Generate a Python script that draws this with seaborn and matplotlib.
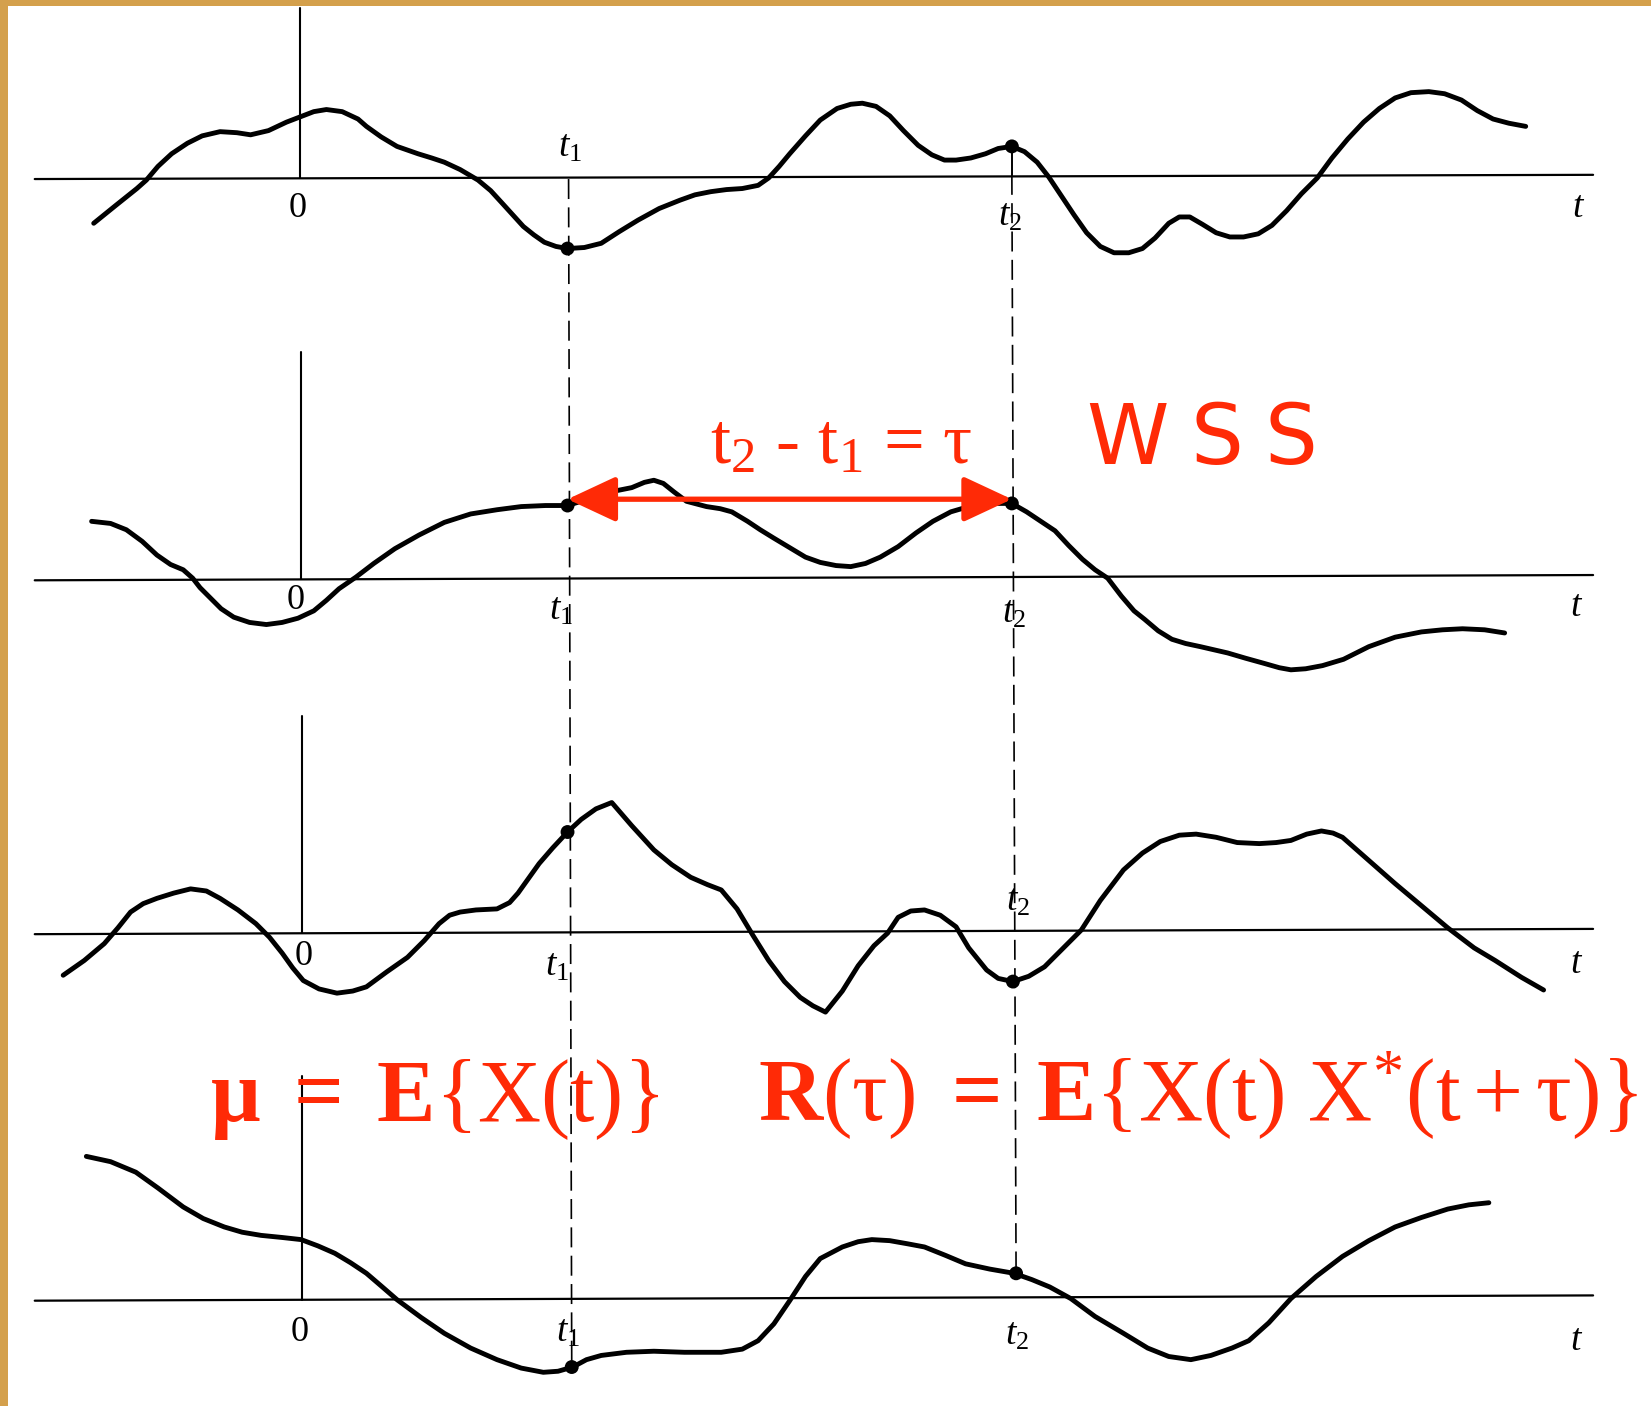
import matplotlib
matplotlib.use("Agg")
import matplotlib.pyplot as plt
from matplotlib.patches import FancyArrowPatch, ArrowStyle
import seaborn as sns
import pandas as pd

sns.set_theme(style="white")
plt.rcParams['font.family'] = ['Liberation Serif', 'DejaVu Serif']
plt.rcParams['mathtext.fontset'] = 'custom'
plt.rcParams['mathtext.rm'] = 'Liberation Serif'
plt.rcParams['mathtext.it'] = 'Liberation Serif:italic'
plt.rcParams['mathtext.bf'] = 'Liberation Serif:bold'

# drawing units (picture coordinates, y grows downwards)
W, H = 1568, 1335

# time axes of the four sample functions
row_y_left = [170, 551, 887, 1235]
row_y_right = [166, 546, 882, 1230]
axis_x0, axis_x1 = 33, 1513
zero_x = [285, 286, 287, 287]
zero_top = [8, 334, 680, 1022]

# sample functions x(t)
c1_x = [89, 110, 130, 139, 150, 163, 178, 192, 209, 225, 238, 255, 272, 285, 298, 310, 325, 340, 348, 362,
        377, 397, 410, 422, 437, 454, 466, 477, 487, 497, 507, 517, 528, 539, 555, 571, 588, 606, 626, 646,
        660, 675, 690, 705, 720, 730, 740, 750, 765, 779, 795, 808, 819, 832, 845, 858, 872, 885, 897, 908,
        922, 936, 948, 961, 973, 985, 996, 1008, 1020, 1032, 1045, 1058, 1072, 1085, 1097, 1110, 1120, 1130,
        1142, 1155, 1168, 1181, 1195, 1208, 1222, 1236, 1251, 1265, 1280, 1295, 1310, 1325, 1340, 1357, 1372,
        1388, 1403, 1418, 1433, 1449]
c1_y = [212, 195, 179, 171, 158, 146, 136, 129, 125, 126, 128, 124, 116, 111, 106, 104, 106, 113, 120, 130,
        139, 146, 150, 154, 161, 171, 181, 193, 204, 215, 223, 230, 234, 236, 235, 231, 220, 209, 198, 190,
        185, 182, 180, 179, 176, 169, 158, 146, 129, 114, 103, 99, 98, 101, 110, 124, 138, 147, 152, 152,
        150, 146, 141, 139, 144, 154, 168, 186, 204, 221, 234, 240, 240, 236, 226, 212, 206, 206,
        213, 221, 225, 225, 222, 214, 200, 184, 169, 150, 132, 116, 103, 93, 88, 87, 89,
        95, 105, 113, 117, 120]

c2_x = [87, 105, 120, 135, 149, 162, 174, 183, 190, 199, 210, 222, 237, 253, 268, 283, 298, 310, 322, 338,
        355, 375, 398, 422, 447, 472, 495, 518, 539, 555, 570, 585, 600, 612, 621, 630, 640, 652, 671, 684,
        695, 710, 722, 735, 750, 765, 779, 794, 808, 822, 836, 853, 870, 886, 903, 920, 940, 961, 975, 990,
        1002, 1015, 1028, 1040, 1052, 1065, 1077, 1087, 1100, 1113, 1126, 1140, 1153, 1166, 1183, 1201, 1215,
        1226, 1240, 1256, 1276, 1300, 1325, 1350, 1370, 1389, 1410, 1429]
c2_y = [495, 497, 503, 514, 527, 536, 541, 549, 558, 567, 578, 586, 591, 593, 591, 587, 580, 570, 559, 548,
        535, 521, 508, 496, 488, 484, 481, 480, 480, 475, 470, 466, 463, 458, 456, 459, 467, 476, 481, 483,
        486, 495, 503, 511, 520, 529, 534, 537, 538, 535, 529, 519, 506, 495, 486, 481, 478, 478, 486, 496,
        504, 518, 531, 541, 549, 566, 580, 588, 599, 607, 611, 614, 617, 620, 625, 630, 634,
        636, 635, 632, 626, 614, 605, 600, 598, 597, 598, 601]

c3_x = [60, 80, 99, 112, 124, 136, 149, 165, 181, 196, 209, 226, 243, 256, 268, 278, 288, 303, 320, 335,
        348, 367, 387, 403, 417, 427, 437, 452, 472, 484, 492, 502, 512, 525, 539, 552, 566, 581, 600, 621,
        638, 656, 672, 685, 700, 715, 730, 745, 760, 772, 784, 800, 815, 830, 843, 853, 865, 878, 893, 908,
        920, 937, 948, 962, 977, 992, 1010, 1027, 1045, 1067, 1085, 1102, 1120, 1136, 1155, 1175, 1196, 1212,
        1226, 1241, 1255, 1266, 1275, 1300, 1325, 1350, 1375, 1400, 1420, 1445, 1466]
c3_y = [926, 912, 896, 881, 866, 858, 853, 848, 844, 846, 853, 864, 877, 890, 905, 919, 931, 939, 943, 941,
        937, 923, 909, 893, 877, 869, 866, 864, 863, 857, 848, 834, 820, 805, 790, 778, 768, 762, 784, 807,
        821, 833, 840, 845, 863, 888, 912, 932, 947, 955, 961, 941, 917, 898, 886, 871, 865, 864, 869, 880,
        900, 921, 929, 932, 927, 918, 900, 883, 855, 826, 810, 799, 793, 792, 795, 800, 801, 800,
        798, 792, 789, 791, 795, 817, 839, 860, 881, 900, 912, 928, 940]

c4_x = [82, 105, 129, 150, 174, 193, 213, 230, 248, 268, 286, 302, 318, 333, 348, 362, 377, 400, 422, 447,
        472, 495, 516, 530, 544, 557, 571, 595, 621, 650, 685, 705, 720, 735, 750, 765, 779, 800, 815, 828,
        845, 862, 878, 898, 917, 940, 963, 980, 997, 1017, 1040, 1067, 1090, 1110, 1131, 1150, 1170, 1186,
        1205, 1226, 1250, 1275, 1300, 1325, 1350, 1375, 1395, 1414]
c4_y = [1098, 1103, 1113, 1128, 1146, 1157, 1165, 1170, 1173, 1175, 1177, 1183, 1190, 1199, 1209, 1221, 1234,
        1251, 1266, 1280, 1291, 1299, 1303, 1302, 1298, 1291, 1287, 1284, 1283, 1284, 1284, 1281, 1273, 1257,
        1235, 1212, 1195, 1184, 1179, 1177, 1178, 1181, 1184, 1192, 1200, 1205, 1209, 1215, 1222, 1233, 1250,
        1266, 1280, 1288, 1291, 1287, 1280, 1273, 1256, 1233, 1212, 1193, 1178, 1165, 1156, 1148, 1144, 1142]

curves = [(c1_x, c1_y), (c2_x, c2_y), (c3_x, c3_y), (c4_x, c4_y)]

# sampled values at t1 and t2
t1_x = [539, 539, 539, 543]
t1_y = [236, 480, 790, 1298]
t2_x = [961, 961, 962, 965]
t2_y = [139, 478, 932, 1209]

# tick label positions per row: (x, y)
zero_lbl = [(283, 198), (281, 570), (288, 908), (285, 1265)]
t1_lbl = [(541, 140), (533, 580), (529, 918), (539, 1265)]
t2_lbl = [(959, 205), (963, 582), (967, 856), (966, 1268)]
t_lbl = [(1499, 197), (1497, 576), (1497, 915), (1497, 1273)]

# WSS letters and their centres
wss_letters = ['W', 'S', 'S']
wss_x = [1071, 1156, 1226]

red = '#FF2A06'
tan = '#D4A04C'

fig = plt.figure(figsize=(16.51, 14.06), dpi=100)
ax = fig.add_axes([0, 0, 1, 1])
ax.set_xlim(0, W)
ax.set_ylim(H, 0)

# frame strips
ax.axvspan(0, 8, color=tan, lw=0, zorder=0)
ax.axhspan(0, 6, color=tan, lw=0, zorder=0)

# time axes and vertical axes
for i in range(4):
    ax.plot([axis_x0, axis_x1], [row_y_left[i], row_y_right[i]], color='black', lw=1.6)
    ax.plot([zero_x[i], zero_x[i]], [zero_top[i], row_y_left[i] - 1], color='black', lw=1.5)

# dashed guides at t1 and t2
ax.plot([540, t1_x[-1]], [row_y_left[0], t1_y[-1]], color='black', lw=1.2, dashes=(12, 5))
ax.plot([t2_x[0], t2_x[0]], [t2_y[0], row_y_right[0]], color='black', lw=1.4)
ax.plot([t2_x[0], t2_x[-1]], [row_y_right[0], t2_y[-1]], color='black', lw=1.2, dashes=(12, 5))

# sample functions
for cx, cy in curves:
    df = pd.DataFrame({'t': cx, 'x': cy})
    sns.lineplot(data=df, x='t', y='x', sort=False, estimator=None, color='black',
                 lw=3.5, ax=ax, solid_capstyle='round', solid_joinstyle='round')

sns.scatterplot(x=t1_x + t2_x, y=t1_y + t2_y, s=100, color='black', edgecolor='none', ax=ax, zorder=5)

# tick labels
for i in range(4):
    ax.text(*zero_lbl[i], '0', fontsize=26, ha='center', va='center', color='black')
    ax.text(*t1_lbl[i], r'$\mathit{t}_{1}$', fontsize=27, ha='center', va='center', color='black')
    ax.text(*t2_lbl[i], r'$\mathit{t}_{2}$', fontsize=27, ha='center', va='center', color='black')
    ax.text(*t_lbl[i], r'$\mathit{t}$', fontsize=27, ha='center', va='center', color='black')

# tau arrow
arrow = FancyArrowPatch((t1_x[1], 474), (t2_x[1], 474),
                        arrowstyle=ArrowStyle('<|-|>', head_length=30, head_width=14),
                        mutation_scale=1, color=red, lw=3.8, shrinkA=0, shrinkB=0, zorder=6)
ax.add_patch(arrow)
ax.text(799, 440, r'$\mathrm{t}_{2}$ - $\mathrm{t}_{1}$ = $\mathrm{\tau}$', fontsize=52,
        ha='center', va='baseline', color=red)

for letter, lx in zip(wss_letters, wss_x):
    ax.text(lx, 441, letter, fontsize=60, family='DejaVu Sans', ha='center', va='baseline', color=red)

ax.text(413, 1064, r'$\mathbf{\mu}\ \mathbf{=}\ \mathbf{E}\mathrm{\{X(t)\}}$', fontsize=63,
        ha='center', va='baseline', color=red)
ax.text(1138, 1064, r'$\mathbf{R}\mathrm{(\tau)}\ \mathbf{=}\ \mathbf{E}\mathrm{\{X(t)\ X^{*}(t+\tau)\}}$',
        fontsize=64, ha='center', va='baseline', color=red)

ax.axis('off')
fig.savefig('out.png', dpi=100, facecolor='white')
